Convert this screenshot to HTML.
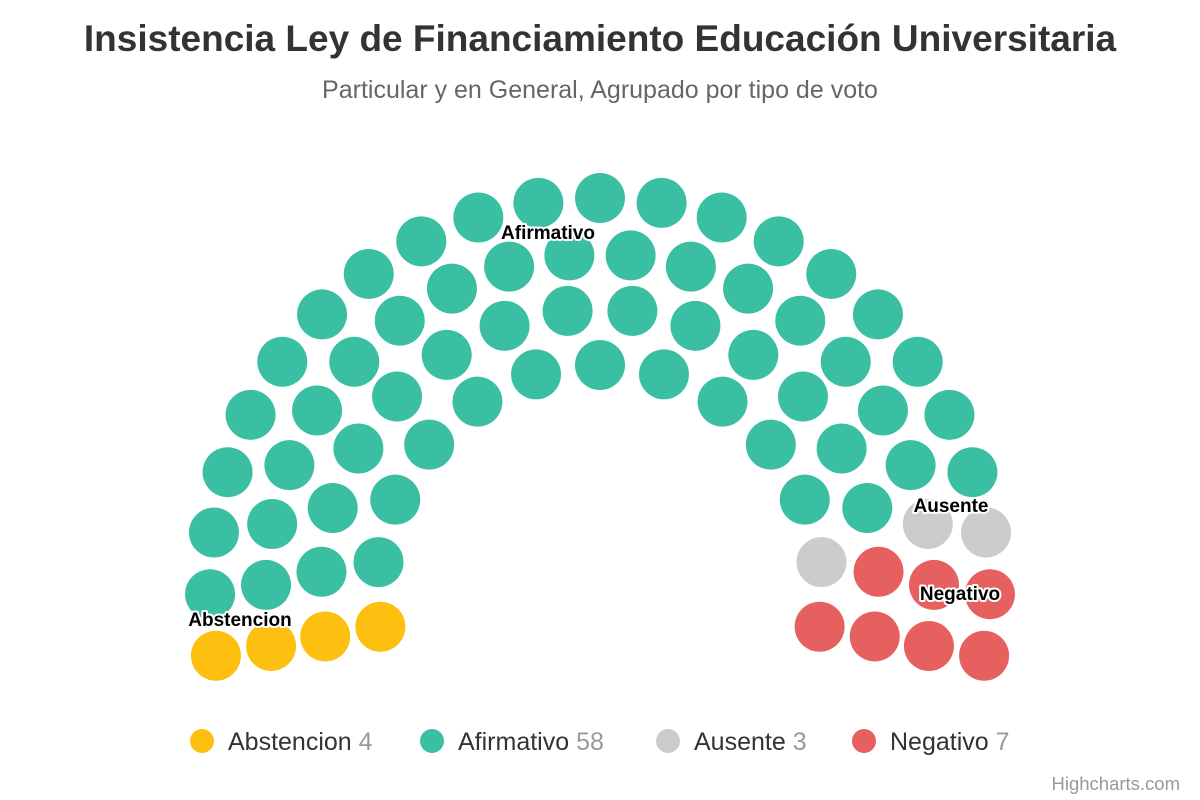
<!DOCTYPE html>
<html><head><meta charset="utf-8"><style>
body{margin:0;background:#fff;}
svg{display:block;font-family:"Liberation Sans",sans-serif;}
</style></head><body>
<svg id="chart" width="1200" height="800">
<text x="600" y="51" text-anchor="middle" font-size="37" font-weight="bold" fill="#333">Insistencia Ley de Financiamiento Educación Universitaria</text>
<text x="600" y="98" text-anchor="middle" font-size="25" fill="#666">Particular y en General, Agrupado por tipo de voto</text>
<g id="seats"></g>
<g id="labels"></g>
<g id="legend"></g>
<text x="1180" y="790" text-anchor="end" font-size="18.5" fill="#999">Highcharts.com</text>
</svg>
<script>
const categories = ["Abstencion", "Afirmativo", "Ausente", "Negativo"];
const seatCounts = [4, 58, 3, 7];
const colors = ["#FDC010", "#3ABFA3", "#CCCCCC", "#E66060"];
const rowSizes = [23, 20, 16, 13];

const NS = "http://www.w3.org/2000/svg";
const cx = 600, cy = 588;
const radii = [390, 334, 279, 223];
const startA = -100, endA = 100, dotR = 25;

function mk(tag, attrs, parent){const e=document.createElementNS(NS,tag);for(const k in attrs)e.setAttribute(k,attrs[k]);parent.appendChild(e);return e;}

const slots = [];
rowSizes.forEach((n,ri)=>{
  for(let i=0;i<n;i++){
    const a = startA + (endA-startA)*i/(n-1);
    slots.push({a, r: radii[ri], ri});
  }
});
slots.sort((p,q)=>p.a-q.a || q.r-p.r);
const seatsG = document.getElementById('seats');
let idx=0;
seatCounts.forEach((cnt,si)=>{
  for(let k=0;k<cnt && idx<slots.length;k++,idx++){
    const s=slots[idx], rad=s.a*Math.PI/180;
    const c=mk('circle',{cx:cx+s.r*Math.sin(rad),cy:cy-s.r*Math.cos(rad),r:dotR,fill:colors[si]},seatsG);
    
    
  }
});

const labelPos = [[240,626],[548,239],[951,512],[960,600]];
const labelsG = document.getElementById('labels');
categories.forEach((c,i)=>{
  const t=mk('text',{x:labelPos[i][0],y:labelPos[i][1],'text-anchor':'middle','font-size':19,'font-weight':'bold',fill:'#000',stroke:'#fff','stroke-width':4,'paint-order':'stroke','stroke-linejoin':'round'},labelsG);
  t.textContent=c;
  
  
});

const legX = [202, 432, 668, 864];
const legG = document.getElementById('legend');
categories.forEach((c,i)=>{
  const g=mk('g',{},legG);
  
  
  mk('circle',{cx:legX[i],cy:741,r:12,fill:colors[i]},g);
  const t=mk('text',{x:legX[i]+26,y:750,'font-size':25,fill:'#333'},g);
  t.textContent=c+' ';
  const sp=mk('tspan',{fill:'#999'},t);
  sp.textContent=seatCounts[i];
});
</script>
</body></html>
